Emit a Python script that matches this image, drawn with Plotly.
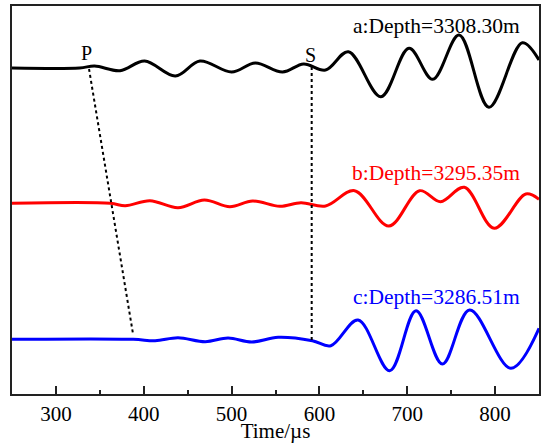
import plotly.graph_objects as go

# Waveforms: times (µs) of key points and amplitudes (arbitrary units, up = positive)
a_time = [250, 327, 344, 373, 401, 436, 464, 500, 527, 558, 582, 607, 633, 670, 702, 729, 759, 793, 831, 850]
a_amp  = [0, 0, 2, -2.7, 7, -8, 7, -4, 5, -4, 4, -2, 16.3, -28.7, 19.7, -11.3, 33, -39.3, 25.3, 8]

b_time = [250, 362, 379, 407, 439, 469, 498, 524, 555, 579, 607, 640, 679, 714, 738, 765, 799, 835, 850]
b_amp  = [0, 0, -2.4, 2.6, -4.4, 3.3, -3.4, 2.3, -3, 0.6, -2.7, 12.6, -22.7, 12.6, 1.6, 16, -25, 9.3, 4]

c_time = [250, 388, 413, 439, 470, 496, 523, 553, 592, 613, 644, 680, 710, 740, 771, 818, 850]
c_amp  = [0, 0, -1.4, 1.6, -2.4, 1.3, -2.7, 2.0, -1.4, -6.4, 19.3, -31.4, 28.6, -24.7, 29.3, -29, 11]

# vertical offsets of each trace (same units)
offsets = [326, 190.7, 54.7]
labels = ["a:Depth=3308.30m", "b:Depth=3295.35m", "c:Depth=3286.51m"]
colors = ["#000000", "#ff0000", "#0000ff"]

# P and S arrival picks
p_time = [337.7, 387.8]
p_y = [325, 60]
s_time = [591.2, 591.2]
s_y = [327, 54]

tick_vals = [300, 400, 500, 600, 700, 800]

fig = go.Figure()
for t, amp, off, col in zip([a_time, b_time, c_time], [a_amp, b_amp, c_amp], offsets, colors):
    fig.add_trace(go.Scatter(x=t, y=[v + off for v in amp], mode="lines",
                             line=dict(color=col, width=3, shape="spline", smoothing=1.0),
                             showlegend=False, hoverinfo="skip"))

fig.add_trace(go.Scatter(x=p_time, y=p_y, mode="lines",
                         line=dict(color="black", width=2, dash="dot"), showlegend=False))
fig.add_trace(go.Scatter(x=s_time, y=s_y, mode="lines",
                         line=dict(color="black", width=2, dash="dot"), showlegend=False))

font = "Liberation Serif, Times New Roman, serif"
ann = [
    dict(x=334.3, y=341, text="P", showarrow=False, font=dict(size=20, color="black", family=font)),
    dict(x=590.4, y=339, text="S", showarrow=False, font=dict(size=20, color="black", family=font)),
]
for lab, ly, col in zip(labels, [368.3, 221, 97.3], colors):
    ann.append(dict(x=830.7, y=ly, text=lab, showarrow=False, xanchor="right",
                    font=dict(size=21.5, color=col, family=font)))

fig.update_layout(
    width=552, height=443,
    margin=dict(l=12, r=13, t=6, b=49),
    paper_bgcolor="white", plot_bgcolor="white",
    annotations=ann,
    xaxis=dict(range=[250, 850], tickvals=tick_vals, ticks="inside", ticklen=8, tickwidth=1.5,
               tickcolor="#222", showline=True, linecolor="#222", linewidth=1.5, mirror=True,
               showgrid=False, zeroline=False, automargin=False,
               minor=dict(dtick=50, tick0=250, ticks="inside", ticklen=4, tickwidth=1.5, tickcolor="#222"),
               tickfont=dict(size=21, family=font, color="black"),
               title=dict(text="Time/µs", font=dict(size=21, family=font, color="black"), standoff=2)),
    yaxis=dict(range=[0, 388], showline=True, linecolor="#222", linewidth=1.5, mirror=True,
               showticklabels=False, ticks="", showgrid=False, zeroline=False, automargin=False),
)

fig.write_html("out.html")
